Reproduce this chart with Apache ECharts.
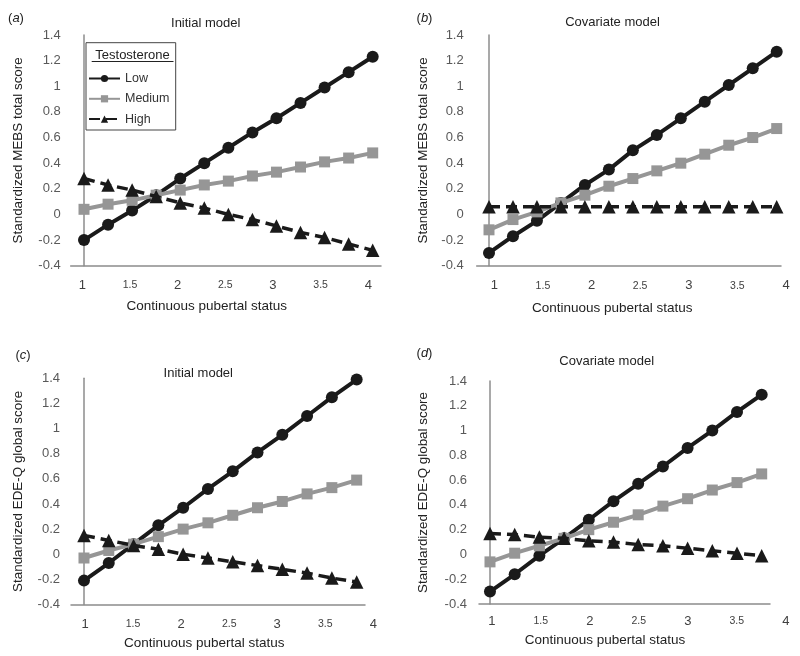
<!DOCTYPE html>
<html><head><meta charset="utf-8">
<script src="https://cdn.jsdelivr.net/npm/echarts@6/dist/echarts.min.js"></script>
<style>html,body{margin:0;padding:0;background:#fff}#c{width:800px;height:656px}</style>
</head><body><div id="c"></div>
<script>
// ---- data ----
const xTicks = [1, 1.5, 2, 2.5, 3, 3.5, 4];
const steps13 = [0, 1, 2, 3, 4, 5, 6, 7, 8, 9, 10, 11, 12];
const steps12 = [0, 1, 2, 3, 4, 5, 6, 7, 8, 9, 10, 11];
const seriesNames = ['Low', 'Medium', 'High'];

const mebsInitialLow    = [-0.20, -0.08, 0.03, 0.15, 0.28, 0.40, 0.52, 0.64, 0.75, 0.87, 0.99, 1.11, 1.23];
const mebsInitialMedium = [0.04, 0.08, 0.11, 0.15, 0.19, 0.23, 0.26, 0.30, 0.33, 0.37, 0.41, 0.44, 0.48];
const mebsInitialHigh   = [0.28, 0.23, 0.19, 0.14, 0.09, 0.05, 0.00, -0.04, -0.09, -0.14, -0.18, -0.23, -0.28];

const mebsCovLow    = [-0.30, -0.17, -0.05, 0.09, 0.23, 0.35, 0.50, 0.62, 0.75, 0.88, 1.01, 1.14, 1.27];
const mebsCovMedium = [-0.12, -0.04, 0.02, 0.09, 0.15, 0.22, 0.28, 0.34, 0.40, 0.47, 0.54, 0.60, 0.67];
const mebsCovHigh   = [0.06, 0.06, 0.06, 0.06, 0.06, 0.06, 0.06, 0.06, 0.06, 0.06, 0.06, 0.06, 0.06];

const edeqInitialLow    = [-0.21, -0.07, 0.08, 0.23, 0.37, 0.52, 0.66, 0.81, 0.95, 1.10, 1.25, 1.39];
const edeqInitialMedium = [-0.03, 0.03, 0.08, 0.14, 0.20, 0.25, 0.31, 0.37, 0.42, 0.48, 0.53, 0.59];
const edeqInitialHigh   = [0.15, 0.11, 0.07, 0.04, 0.00, -0.03, -0.06, -0.09, -0.12, -0.15, -0.19, -0.22];

const edeqCovLow    = [-0.30, -0.16, -0.01, 0.13, 0.28, 0.43, 0.57, 0.71, 0.86, 1.00, 1.15, 1.29];
const edeqCovMedium = [-0.06, 0.01, 0.07, 0.13, 0.20, 0.26, 0.32, 0.39, 0.45, 0.52, 0.58, 0.65];
const edeqCovHigh   = [0.17, 0.16, 0.14, 0.13, 0.11, 0.10, 0.08, 0.07, 0.05, 0.03, 0.01, -0.01];

// ---- layout ----
const FONT = '"Liberation Sans", Arial, sans-serif';
const panels = [
  { tag: 'a', title: 'Initial model', yName: 'Standardized MEBS total score', steps: steps13,
    vals: [mebsInitialLow, mebsInitialMedium, mebsInitialHigh],
    grid: { left: 70.7, top: 35, width: 310.3, height: 230.7 }, dMin: -0.553, dMax: 12.345,
    lMin: 0.878, lMax: 4.235, lMargin: 19.3, yMargin: 10, yGap: 46,
    tagPos: [16, 18.5], titlePos: [205.7, 23.3], xNamePos: [206.7, 306.7] },
  { tag: 'b', title: 'Covariate model', yName: 'Standardized MEBS total score', steps: steps13,
    vals: [mebsCovLow, mebsCovMedium, mebsCovHigh],
    grid: { left: 476.7, top: 35, width: 304.3, height: 230.7 }, dMin: -0.513, dMax: 12.179,
    lMin: 0.819, lMax: 4.110, lMargin: 20, yMargin: 13, yGap: 47,
    tagPos: [424.5, 18.5], titlePos: [612.5, 22.5], xNamePos: [612.3, 308] },
  { tag: 'c', title: 'Initial model', yName: 'Standardized EDE-Q global score', steps: steps12,
    vals: [edeqInitialLow, edeqInitialMedium, edeqInitialHigh],
    grid: { left: 71, top: 378.3, width: 294, height: 226.2 }, dMin: -0.524, dMax: 11.336,
    lMin: 0.854, lMax: 4.184, lMargin: 19.5, yMargin: 11, yGap: 46,
    tagPos: [23, 355], titlePos: [198.3, 373.3], xNamePos: [204.2, 643.3] },
  { tag: 'd', title: 'Covariate model', yName: 'Standardized EDE-Q global score', steps: steps12,
    vals: [edeqCovLow, edeqCovMedium, edeqCovHigh],
    grid: { left: 479, top: 381, width: 291, height: 223 }, dMin: -0.445, dMax: 11.336,
    lMin: 0.870, lMax: 4.135, lMargin: 17, yMargin: 12, yGap: 49,
    tagPos: [424.5, 353.5], titlePos: [606.7, 361.7], xNamePos: [605, 640.7] }
];

const AXIS_COLOR = '#8c8c8c';
const styles = [
  { color: '#1a1a1a', symbol: 'circle', symbolSize: 12, lineStyle: { width: 4, type: 'solid' } },
  { color: '#969696', symbol: 'rect', symbolSize: 11, lineStyle: { width: 4, type: 'solid' } },
  { color: '#1a1a1a', symbol: 'triangle', symbolSize: 13.5, lineStyle: { width: 3.5, type: [11, 6] } }
];

const option = { animation: false, grid: [], xAxis: [], yAxis: [], series: [], graphic: [] };

panels.forEach((p, k) => {
  const gi = 2 * k;
  const bottom = p.grid.top + p.grid.height;
  option.grid.push(Object.assign({ containLabel: false }, p.grid));
  option.grid.push({ left: p.grid.left, top: bottom - 1, width: 320, height: 1 });

  option.xAxis.push({
    gridIndex: gi, type: 'value', min: p.dMin, max: p.dMax,
    axisLine: { show: true, onZero: false, lineStyle: { color: AXIS_COLOR, width: 1.5 } },
    axisTick: { show: false }, axisLabel: { show: false }, splitLine: { show: false }
  });
  option.xAxis.push({
    gridIndex: gi + 1, type: 'value', min: p.lMin, max: p.lMax,
    axisLine: { show: false }, axisTick: { show: false }, splitLine: { show: false },
    axisLabel: {
      customValues: xTicks, margin: p.lMargin, verticalAlign: 'middle',
      showMinLabel: true, showMaxLabel: true, hideOverlap: false,
      formatter: v => (Math.abs(v % 1) < 1e-9 ? '{b|' + v + '}' : '{s|' + v + '}'),
      rich: {
        b: { fontSize: 13, color: '#404040', fontFamily: FONT },
        s: { fontSize: 10.5, color: '#404040', fontFamily: FONT }
      }
    }
  });

  option.yAxis.push({
    gridIndex: gi, type: 'value', min: -0.4, max: 1.4, interval: 0.2,
    axisLine: { show: true, lineStyle: { color: AXIS_COLOR, width: 1.5 } },
    axisTick: { show: false }, splitLine: { show: false },
    axisLabel: { margin: p.yMargin, fontSize: 13, color: '#595959', fontFamily: FONT,
      formatter: v => String(+v.toFixed(1)) },
    name: p.yName, nameLocation: 'middle', nameGap: p.yGap,
    nameTextStyle: { fontSize: 13.4, color: '#222', fontFamily: FONT }
  });
  option.yAxis.push({ gridIndex: gi + 1, type: 'value', show: false });

  seriesNames.forEach((name, j) => {
    const st = styles[j];
    option.series.push({
      type: 'line', name: name, xAxisIndex: gi, yAxisIndex: gi,
      data: p.steps.map((s, i) => [s, p.vals[j][i]]),
      symbol: st.symbol, symbolSize: st.symbolSize, showSymbol: true,
      itemStyle: { color: st.color },
      lineStyle: Object.assign({ color: st.color }, st.lineStyle),
      z: 2 + j
    });
  });

  option.graphic.push({
    type: 'text', x: p.tagPos[0], y: p.tagPos[1],
    style: { text: '({i|' + p.tag + '})', align: 'center', verticalAlign: 'middle',
      font: '13px ' + FONT, fill: '#222',
      rich: { i: { fontStyle: 'italic', fontSize: 13, fontFamily: FONT, fill: '#222', color: '#222' } } }
  });
  option.graphic.push({
    type: 'text', x: p.titlePos[0], y: p.titlePos[1],
    style: { text: p.title, align: 'center', verticalAlign: 'middle', font: '13px ' + FONT, fill: '#222' }
  });
  option.graphic.push({
    type: 'text', x: p.xNamePos[0], y: p.xNamePos[1],
    style: { text: 'Continuous pubertal status', align: 'center', verticalAlign: 'middle',
      font: '13.5px ' + FONT, fill: '#222' }
  });
});

// legend box (panel a)
option.graphic.push({
  type: 'rect', shape: { x: 86, y: 42.7, width: 89.7, height: 87.3 },
  style: { fill: '#fff', stroke: '#444', lineWidth: 1 }, z: 10
});
option.graphic.push({
  type: 'text', x: 132.5, y: 55, z: 11,
  style: { text: 'Testosterone', align: 'center', verticalAlign: 'middle', font: '13px ' + FONT, fill: '#222' }
});
option.graphic.push({
  type: 'line', shape: { x1: 91.7, y1: 61.5, x2: 173.5, y2: 61.5 }, z: 11,
  style: { stroke: '#222', lineWidth: 1 }
});
option.legend = {
  data: seriesNames, orient: 'vertical', left: 88, top: 71, padding: 0, z: 20,
  itemWidth: 31, itemHeight: 9, itemGap: 5.3, selectedMode: false,
  textStyle: { fontSize: 12.5, color: '#333', fontFamily: FONT, lineHeight: 15 }
};

const chart = echarts.init(document.getElementById('c'), null, { renderer: 'canvas' });
chart.setOption(option);
</script>
</body></html>
